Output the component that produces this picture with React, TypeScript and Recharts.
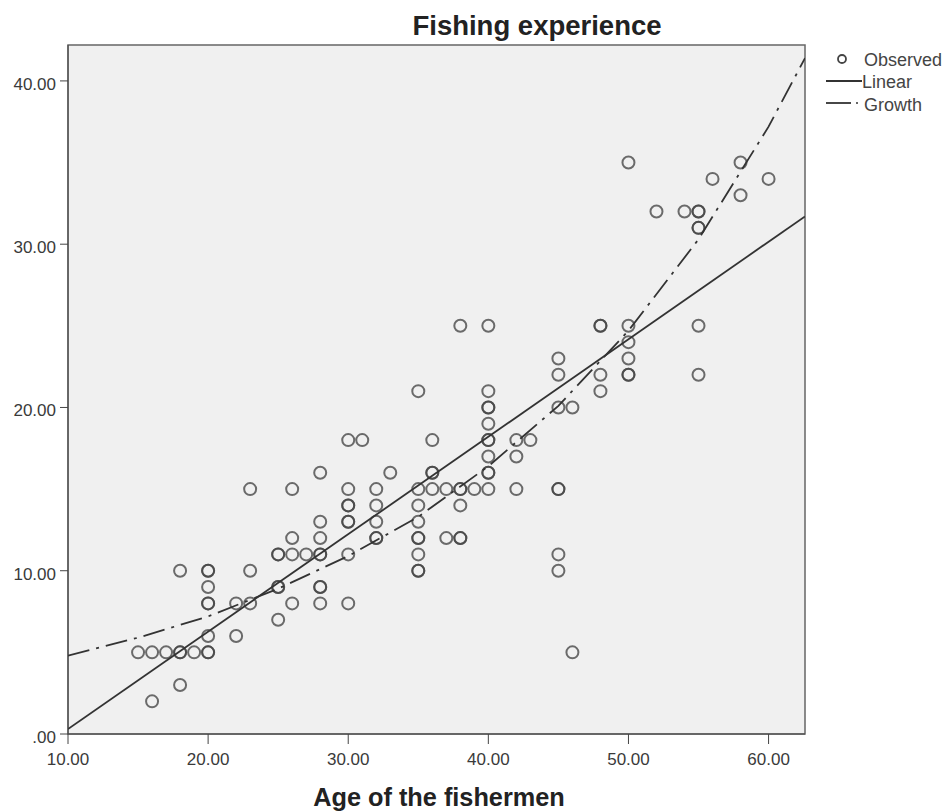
import React from 'react';
import {
  ScatterChart,
  Scatter,
  XAxis,
  YAxis,
  ReferenceArea,
} from 'recharts';

// Observed points [age, years of fishing experience]
const observed: [number, number][] = [
  [15, 5], [16, 5], [16, 2], [17, 5], [18, 5], [18, 5], [18, 3], [18, 10], [19, 5],
  [20, 10], [20, 10], [20, 9], [20, 8], [20, 8], [20, 6], [20, 5], [20, 5],
  [22, 8], [22, 6], [23, 15], [23, 10], [23, 8],
  [25, 11], [25, 11], [25, 9], [25, 9], [25, 7],
  [26, 15], [26, 12], [26, 11], [26, 8], [27, 11],
  [28, 16], [28, 13], [28, 12], [28, 11], [28, 11], [28, 9], [28, 9], [28, 8],
  [30, 18], [30, 15], [30, 14], [30, 14], [30, 13], [30, 13], [30, 11], [30, 8],
  [31, 18], [32, 15], [32, 14], [32, 13], [32, 12], [32, 12], [33, 16],
  [35, 21], [35, 15], [35, 14], [35, 13], [35, 12], [35, 12], [35, 11], [35, 10], [35, 10],
  [36, 18], [36, 16], [36, 16], [36, 15], [37, 15], [37, 12],
  [38, 25], [38, 15], [38, 15], [38, 14], [38, 12], [38, 12], [39, 15],
  [40, 25], [40, 21], [40, 20], [40, 20], [40, 19], [40, 18], [40, 18], [40, 17], [40, 16], [40, 16], [40, 15],
  [42, 18], [42, 17], [42, 15], [43, 18],
  [45, 23], [45, 22], [45, 20], [45, 15], [45, 15], [45, 11], [45, 10],
  [46, 20], [46, 5],
  [48, 25], [48, 25], [48, 22], [48, 21],
  [50, 35], [50, 25], [50, 24], [50, 23], [50, 22], [50, 22],
  [52, 32], [54, 32], [55, 32], [55, 32], [55, 31], [55, 31], [55, 25], [55, 22],
  [56, 34], [58, 35], [58, 33], [60, 34],
];

// Fitted lines
const linearAge = [10, 62.6];
const linearExp = [0.3, 31.7];
const growthAge = [10, 15, 20, 25, 30, 35, 40, 45, 50, 55, 60, 62.6];
const growthExp = [4.8, 5.9, 7.2, 8.9, 10.9, 13.3, 16.4, 20.1, 24.7, 30.3, 37.2, 41.4];

const xTicks = [10, 20, 30, 40, 50, 60];
const yTicks = [0, 10, 20, 30, 40];

const obsData = observed.map(([age, exp]) => ({ age, exp }));
const linearData = linearAge.map((age, i) => ({ age, exp: linearExp[i] }));
const growthData = growthAge.map((age, i) => ({ age, exp: growthExp[i] }));

const font = '"Liberation Sans", Arial, sans-serif';
const fmt = (v: number) => (v === 0 ? '.00' : v.toFixed(2));
const dash = '22 7 3 7';

const Ring = (props: any) => {
  const { cx, cy } = props;
  if (cx == null || cy == null) return <g />;
  return (
    <circle cx={cx} cy={cy} r={6} fill="none" stroke="#444" strokeOpacity={0.78} strokeWidth={2} />
  );
};

export default function App() {
  return (
    <div style={{ position: 'absolute', left: 0, top: 0, width: 947, height: 812, background: '#fff', fontFamily: font }}>
      <ScatterChart width={947} height={812} margin={{ top: 45, right: 142, bottom: 48, left: 8 }}>
        <XAxis
          type="number"
          dataKey="age"
          domain={[10, 62.6]}
          ticks={xTicks}
          tickFormatter={fmt}
          allowDataOverflow
          tickSize={10}
          tickMargin={9}
          stroke="#444"
          tick={{ fontSize: 17, fill: '#3a3a3a', fontFamily: font }}
          height={30}
        />
        <YAxis
          type="number"
          dataKey="exp"
          domain={[0, 42.2]}
          ticks={yTicks}
          tickFormatter={fmt}
          allowDataOverflow
          tickSize={8}
          tickMargin={4}
          stroke="#444"
          width={60}
          tick={{ fontSize: 17, fill: '#3a3a3a', fontFamily: font, dy: 3 }}
        />
        <ReferenceArea x1={10} x2={62.6} y1={0} y2={42.2} fill="#f0f0f0" fillOpacity={1} stroke="#666" strokeWidth={1.5} />
        <Scatter data={obsData} shape={<Ring />} isAnimationActive={false} />
        <Scatter
          data={linearData}
          line={{ stroke: '#333', strokeWidth: 1.8 }}
          lineType="joint"
          shape={() => <g />}
          isAnimationActive={false}
        />
        <Scatter
          data={growthData}
          line={{ stroke: '#333', strokeWidth: 1.8, strokeDasharray: dash }}
          lineType="joint"
          shape={() => <g />}
          isAnimationActive={false}
        />
      </ScatterChart>
      <svg style={{ position: 'absolute', left: 0, top: 0, pointerEvents: 'none' }} width={947} height={812}>
        <text x={537} y={35} textAnchor="middle" fontSize={27.5} fontWeight="bold" fill="#222" fontFamily={font}>
          Fishing experience
        </text>
        <text x={439} y={806} textAnchor="middle" fontSize={25.3} fontWeight="bold" fill="#222" fontFamily={font}>
          Age of the fishermen
        </text>
        <circle cx={842} cy={59} r={4} fill="none" stroke="#444" strokeWidth={1.8} />
        <text x={864} y={66} fontSize={18} fill="#444" fontFamily={font}>Observed</text>
        <line x1={826} x2={862} y1={81} y2={81} stroke="#333" strokeWidth={1.8} />
        <text x={862} y={88} fontSize={18} fill="#444" fontFamily={font}>Linear</text>
        <line x1={826} x2={851} y1={103} y2={103} stroke="#333" strokeWidth={1.8} />
        <circle cx={857} cy={103} r={1} fill="#333" />
        <text x={864} y={111} fontSize={18} fill="#444" fontFamily={font}>Growth</text>
      </svg>
    </div>
  );
}
